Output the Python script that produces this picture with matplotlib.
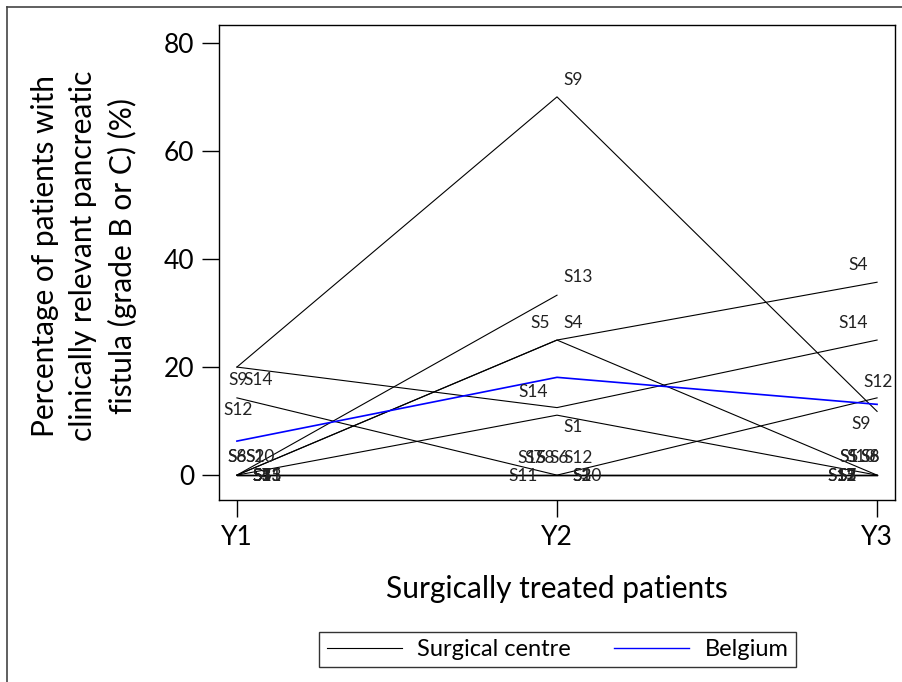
import numpy as np
import matplotlib.pyplot as plt
from matplotlib.lines import Line2D

plt.rcParams['font.family'] = ['Lato', 'DejaVu Sans']

# data: % of patients with clinically relevant pancreatic fistula per centre
years = ['Y1', 'Y2', 'Y3']
centres = ['S1', 'S2', 'S3', 'S4', 'S5', 'S6', 'S7', 'S8',
           'S9', 'S10', 'S11', 'S12', 'S13', 'S14', 'S15']
y1 = [0, 0, 0, 0, 0, 0, 0, 0, 20, 0, 0, 14.3, 0, 20, 0]
y2 = [11.1, 0, 0, 25, 25, 0, 0, 0, 70, 0, 0, 0, 33.3, 12.5, 0]
y3 = [0, 0, 0, 35.7, 0, 0, 0, 0, 11.8, 0, 0, 14.3, np.nan, 25, 0]
belgium = [6.3, 18.1, 13.1]

# label placement (pixel offsets from the point, alignment)
pos1 = {'S9': (-9, -13, 'left'), 'S14': (6, -13, 'left'), 'S12': (-14, -12, 'left'),
        'S6': (-10, 18, 'left'), 'S8': (-10, 18, 'left'),
        'S2': (8, 18, 'left'), 'S10': (8, 18, 'left')}
pos2 = {'S9': (6, 17, 'left'), 'S13': (6, 18, 'left'), 'S4': (6, 17, 'left'),
        'S5': (-27, 17, 'left'), 'S14': (-39, 16, 'left'), 'S1': (6, -12, 'left'),
        'S15': (-40, 17, 'left'), 'S7': (-33, 17, 'left'), 'S8': (-22, 17, 'left'),
        'S6': (-8, 17, 'left'), 'S12': (6, 17, 'left'), 'S11': (-19, -1, 'right')}
pos3 = {'S4': (-29, 17, 'left'), 'S14': (-39, 17, 'left'), 'S12': (-14, 16, 'left'),
        'S9': (-26, -13, 'left'), 'S1': (-38, 18, 'left'), 'S5': (-38, 18, 'left'),
        'S10': (-31, 18, 'left'), 'S6': (-17, 18, 'left'), 'S8': (-17, 18, 'left')}
default_pos = [(15, -1, 'left'), (15, -1, 'left'), (-20, -1, 'right')]

fig = plt.figure(figsize=(9.02, 6.82), dpi=100)
ax = fig.add_axes([219/902, 1-500/682, (895-219)/902, (500-25)/682])

x = np.arange(1, 4)
vals = np.array([y1, y2, y3]).T
for i, c in enumerate(centres):
    ax.plot(x, vals[i], color='black', lw=0.8)
    for j, pos in enumerate([pos1, pos2, pos3]):
        v = vals[i, j]
        if np.isnan(v):
            continue
        dx, dy, ha = pos.get(c, default_pos[j])
        ax.annotate(c, (x[j], v), xytext=(dx, dy), textcoords='offset pixels',
                    ha=ha, va='center', fontsize=12.5, color='#222222')
ax.plot(x, belgium, color='#0000ff', lw=1.2)

ax.set_xlim(0.944, 3.056)
ax.set_ylim(-4.6, 83.3)
ax.set_xticks(x)
ax.set_xticklabels(years)
ax.set_yticks([0, 20, 40, 60, 80])
ax.tick_params(direction='out', length=12, width=1, labelsize=19, pad=6)
for s in ax.spines.values():
    s.set_linewidth(1)
ax.set_xlabel('Surgically treated patients', fontsize=21.5, labelpad=18)

fig.text(84/902, 1-256/682,
         'Percentage of patients with\nclinically relevant pancreatic\nfistula (grade B or C) (%)',
         rotation=90, ha='center', va='center', fontsize=21.5, linespacing=1.45,
         multialignment='center')

handles = [Line2D([], [], color='black', lw=0.8), Line2D([], [], color='#0000ff', lw=1)]
leg = fig.legend(handles, ['Surgical centre', 'Belgium'], loc='center',
                 bbox_to_anchor=(557.5/902, 1-649.5/682), ncol=2, fontsize=17,
                 handlelength=3.2, handletextpad=0.65, columnspacing=1.8,
                 borderpad=0.3, fancybox=False, edgecolor='black')
leg.get_frame().set_linewidth(1)

# outer frame (left and top)
fig.add_artist(Line2D([7/902, 7/902], [0, 1-7/682], color='#444444', lw=1.2))
fig.add_artist(Line2D([7/902, 1], [1-7/682, 1-7/682], color='#444444', lw=1.2))

fig.savefig('out.png', dpi=100)
